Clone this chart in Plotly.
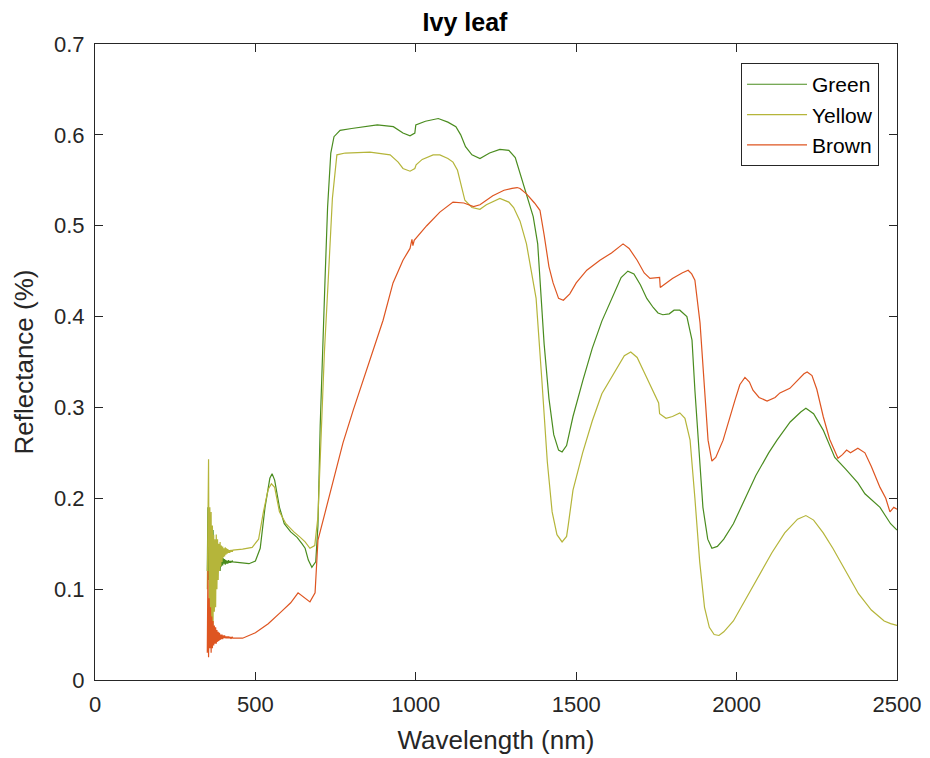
import plotly.graph_objects as go

# ---- noisy detector start (350-430 nm, 2 nm steps) ----
wl_noise = list(range(350, 432, 2))
green_noise = [0.12, 0.19, 0.11, 0.17, 0.12, 0.16, 0.105, 0.15, 0.11, 0.165,
               0.12, 0.15, 0.115, 0.14, 0.12, 0.145, 0.118, 0.14, 0.125, 0.138,
               0.12, 0.135, 0.125, 0.137, 0.126, 0.134, 0.128, 0.133, 0.127, 0.132,
               0.128, 0.131, 0.128, 0.132, 0.129, 0.131, 0.129, 0.131, 0.13, 0.131, 0.13]
yellow_noise = [0.10, 0.20, 0.243, 0.07, 0.19, 0.06, 0.185, 0.05, 0.17, 0.06,
                0.16, 0.075, 0.155, 0.08, 0.16, 0.10, 0.155, 0.11, 0.15, 0.12,
                0.152, 0.125, 0.148, 0.13, 0.147, 0.135, 0.145, 0.136, 0.146, 0.138,
                0.145, 0.139, 0.144, 0.14, 0.143, 0.14, 0.143, 0.141, 0.143, 0.141, 0.143]
brown_noise = [0.03, 0.12, 0.025, 0.09, 0.035, 0.08, 0.03, 0.07, 0.035, 0.065,
               0.038, 0.06, 0.04, 0.058, 0.04, 0.055, 0.042, 0.053, 0.043, 0.052,
               0.044, 0.05, 0.045, 0.05, 0.045, 0.049, 0.046, 0.049, 0.046, 0.048,
               0.046, 0.048, 0.046, 0.048, 0.046, 0.047, 0.046, 0.047, 0.046, 0.047, 0.046]

# ---- smooth part of each spectrum ----
green_wl = [450, 480, 500, 515, 530, 545, 552, 560, 575, 590, 610, 630, 645, 655, 665, 676,
            688, 695, 702, 710, 717, 725, 735, 745, 764, 800, 850, 880, 930, 960, 982, 997,
            1000, 1030, 1070, 1100, 1125, 1140, 1155, 1175, 1200, 1230, 1262, 1290, 1310,
            1325, 1345, 1366, 1380, 1390, 1400, 1415, 1430, 1445, 1456, 1470, 1490, 1521,
            1550, 1580, 1610, 1640, 1661, 1680, 1700, 1720, 1740, 1755, 1770, 1790, 1805,
            1823, 1845, 1861, 1870, 1880, 1895, 1910, 1923, 1940, 1960, 1990, 2020, 2060,
            2100, 2126, 2167, 2200, 2216, 2240, 2270, 2306, 2340, 2378, 2400, 2447, 2480, 2500]
green_val = [0.129, 0.128, 0.131, 0.145, 0.19, 0.222, 0.227, 0.22, 0.19, 0.172, 0.163, 0.157,
             0.15, 0.145, 0.132, 0.124, 0.13, 0.17, 0.28, 0.38, 0.44, 0.52, 0.58, 0.598, 0.605,
             0.607, 0.61, 0.611, 0.609, 0.602, 0.599, 0.602, 0.611, 0.615, 0.618, 0.614, 0.609,
             0.60, 0.587, 0.578, 0.574, 0.58, 0.584, 0.583, 0.575, 0.558, 0.535, 0.51, 0.48,
             0.43, 0.37, 0.31, 0.27, 0.253, 0.251, 0.258, 0.29, 0.33, 0.365, 0.395, 0.42, 0.443,
             0.45, 0.447, 0.435, 0.42, 0.41, 0.404, 0.402, 0.403, 0.407, 0.407, 0.40, 0.374,
             0.319, 0.264, 0.19, 0.155, 0.145, 0.147, 0.155, 0.172, 0.195, 0.225, 0.25, 0.264,
             0.284, 0.295, 0.299, 0.293, 0.275, 0.245, 0.232, 0.217, 0.205, 0.19, 0.172, 0.165]

yellow_wl = [460, 490, 510, 525, 540, 550, 560, 575, 595, 620, 640, 655, 670, 685, 695, 705,
             715, 727, 740, 754, 780, 857, 900, 920, 945, 960, 982, 997, 1001, 1020, 1054,
             1075, 1100, 1116, 1130, 1145, 1153, 1175, 1200, 1220, 1262, 1290, 1305, 1325,
             1345, 1360, 1375, 1393, 1410, 1425, 1440, 1456, 1470, 1475, 1490, 1520, 1550,
             1580, 1605, 1630, 1650, 1670, 1690, 1710, 1730, 1750, 1757, 1760, 1780, 1800,
             1823, 1839, 1855, 1870, 1885, 1900, 1915, 1930, 1945, 1960, 1990, 2030, 2070,
             2110, 2150, 2190, 2216, 2240, 2270, 2300, 2340, 2380, 2420, 2460, 2480, 2500]
yellow_val = [0.144, 0.146, 0.155, 0.185, 0.21, 0.216, 0.212, 0.185, 0.172, 0.163, 0.157,
              0.152, 0.145, 0.148, 0.18, 0.27, 0.36, 0.44, 0.53, 0.578, 0.58, 0.581, 0.579,
              0.578, 0.57, 0.563, 0.56, 0.563, 0.567, 0.573, 0.578, 0.578, 0.574, 0.57, 0.561,
              0.54, 0.528, 0.52, 0.518, 0.523, 0.53, 0.526, 0.52, 0.505, 0.48, 0.45, 0.42, 0.33,
              0.24, 0.185, 0.16, 0.152, 0.158, 0.17, 0.209, 0.25, 0.285, 0.315, 0.33, 0.345,
              0.357, 0.361, 0.355, 0.34, 0.325, 0.31, 0.305, 0.293, 0.288, 0.29, 0.294, 0.288,
              0.264, 0.2, 0.13, 0.08, 0.058, 0.05, 0.049, 0.053, 0.065, 0.09, 0.115, 0.14,
              0.162, 0.177, 0.181, 0.176, 0.162, 0.145, 0.12, 0.095, 0.077, 0.065, 0.062, 0.06]

brown_wl = [460, 500, 540, 580, 610, 633, 650, 670, 686, 695, 717, 742, 773, 805, 836, 867,
            898, 929, 960, 982, 988, 991, 995, 1034, 1075, 1116, 1150, 1180, 1200, 1240, 1275,
            1300, 1316, 1325, 1345, 1370, 1387, 1400, 1415, 1428, 1445, 1460, 1480, 1500,
            1533, 1574, 1610, 1646, 1665, 1690, 1712, 1730, 1750, 1760, 1762, 1780, 1800,
            1830, 1849, 1860, 1870, 1886, 1901, 1911, 1923, 1935, 1958, 1975, 1995, 2010,
            2026, 2040, 2051, 2070, 2095, 2120, 2135, 2166, 2190, 2210, 2220, 2235, 2250,
            2270, 2290, 2316, 2330, 2343, 2355, 2378, 2400, 2420, 2447, 2465, 2478, 2490, 2500]
brown_val = [0.046, 0.052, 0.062, 0.075, 0.085, 0.096, 0.091, 0.086, 0.096, 0.154, 0.184,
             0.217, 0.261, 0.297, 0.33, 0.363, 0.396, 0.437, 0.462, 0.475, 0.485, 0.478,
             0.484, 0.50, 0.515, 0.526, 0.525, 0.521, 0.523, 0.533, 0.539, 0.541, 0.542,
             0.541, 0.535, 0.525, 0.517, 0.49, 0.455, 0.437, 0.42, 0.418, 0.425, 0.437, 0.451,
             0.462, 0.47, 0.48, 0.475, 0.462, 0.448, 0.442, 0.443, 0.443, 0.432, 0.437, 0.442,
             0.448, 0.451, 0.447, 0.44, 0.393, 0.319, 0.264, 0.241, 0.245, 0.264, 0.285, 0.308,
             0.325, 0.333, 0.328, 0.319, 0.311, 0.307, 0.311, 0.316, 0.321, 0.33, 0.337, 0.339,
             0.335, 0.32, 0.29, 0.265, 0.244, 0.248, 0.253, 0.25, 0.255, 0.25, 0.235, 0.212,
             0.2, 0.185, 0.19, 0.188]

series = [
    ("Green", "#4a8c1f", wl_noise + green_wl, green_noise + green_val),
    ("Yellow", "#b5b53a", wl_noise + yellow_wl, yellow_noise + yellow_val),
    ("Brown", "#de5521", wl_noise + brown_wl, brown_noise + brown_val),
]

FONT = "Liberation Sans, Arial, Helvetica, sans-serif"
AXIS_COLOR = "#262626"

fig = go.Figure()
for name, color, x, y in series:
    fig.add_trace(go.Scatter(x=x, y=y, name=name, mode="lines",
                             line=dict(color=color, width=1.2)))

axis_common = dict(
    showline=True, linecolor=AXIS_COLOR, linewidth=1, mirror="allticks",
    ticks="inside", ticklen=8, tickcolor=AXIS_COLOR, tickwidth=1,
    showgrid=False, zeroline=False, automargin=False,
    tickfont=dict(family=FONT, size=22, color=AXIS_COLOR),
)

fig.update_layout(
    width=930, height=758,
    margin=dict(l=95, r=33, t=44, b=78),
    paper_bgcolor="white", plot_bgcolor="white",
    title=dict(text="<b>Ivy leaf</b>", x=0.5, xanchor="center", y=0.971, yanchor="middle",
               font=dict(family=FONT, size=25, color="black")),
    xaxis=dict(range=[0, 2500], tickvals=[0, 500, 1000, 1500, 2000, 2500],
               ticklabelstandoff=5,
               title=dict(text="Wavelength (nm)", font=dict(family=FONT, size=26, color=AXIS_COLOR),
                          standoff=14),
               **axis_common),
    yaxis=dict(range=[0, 0.7], tickvals=[0, 0.1, 0.2, 0.3, 0.4, 0.5, 0.6, 0.7],
               ticktext=["0", "0.1", "0.2", "0.3", "0.4", "0.5", "0.6", "0.7"],
               ticklabelstandoff=5,
               title=dict(text="Reflectance (%)", font=dict(family=FONT, size=26, color=AXIS_COLOR),
                          standoff=12),
               **axis_common),
    legend=dict(x=0.9776, y=0.970, xanchor="right", yanchor="top",
                bgcolor="white", bordercolor=AXIS_COLOR, borderwidth=1,
                font=dict(family=FONT, size=21, color="black"),
                itemwidth=60, tracegroupgap=0),
    showlegend=True,
)

fig.write_html("out.html")
